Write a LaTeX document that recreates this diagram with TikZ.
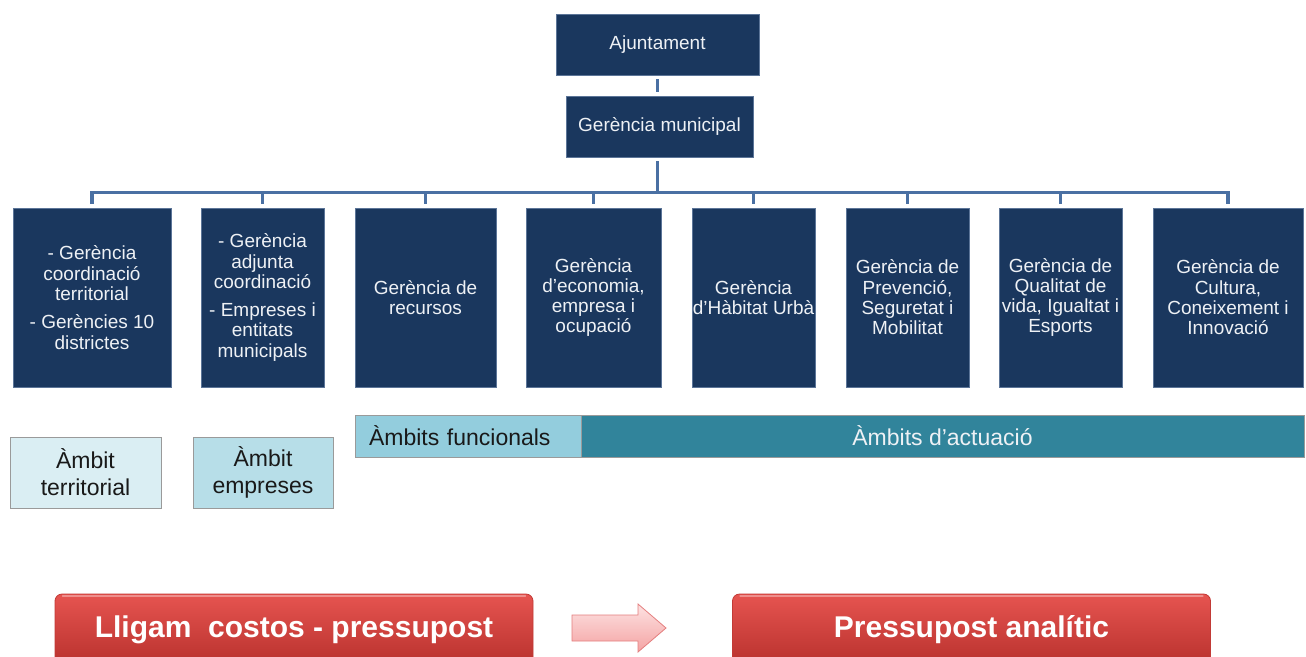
\documentclass[tikz,border=0pt]{standalone}
\usepackage{fontspec}
\setmainfont{Liberation Sans}
\usetikzlibrary{calc}
\definecolor{navy}{HTML}{1A375E}
\definecolor{navyedge}{HTML}{5C7598}
\definecolor{conncol}{HTML}{4A70A3}
\definecolor{boxtext}{HTML}{EEF1F5}
\definecolor{amb1}{HTML}{DAEEF3}
\definecolor{amb2}{HTML}{B7DEE8}
\definecolor{amb3}{HTML}{93CDDD}
\definecolor{amb4}{HTML}{31849B}
\definecolor{ambedge}{HTML}{9A9A9A}
\definecolor{redtop}{HTML}{E65450}
\definecolor{redbot}{HTML}{B8312D}
\definecolor{rededge}{HTML}{C23A36}
\definecolor{pinktop}{HTML}{FDE2E2}
\definecolor{pinkbot}{HTML}{F4A3A3}
\definecolor{pinkedge}{HTML}{E47E7E}
\begin{document}
\begin{tikzpicture}[x=1pt,y=-1pt,
  gbox/.style={rectangle, fill=navy, draw=navyedge, line width=0.8pt, text=boxtext,
    font=\fontsize{19}{20.3}\selectfont, align=center, inner sep=0pt},
  ambox/.style={rectangle, draw=ambedge, line width=0.8pt, text=black!90,
    font=\fontsize{23}{27}\selectfont, align=center, inner sep=0pt},
  conn/.style={draw=conncol, line width=3.5pt},
  redbox/.style={rectangle, rounded corners=7pt, top color=redtop, bottom color=redbot,
    draw=rededge, line width=0.8pt, text=white, font=\fontsize{30}{34}\selectfont\bfseries,
    inner sep=0pt, minimum height=72, minimum width=478}
]
\useasboundingbox (0,0) rectangle (1306,656);
\clip (0,0) rectangle (1306,656);

% top boxes
\node[gbox, minimum width=203, minimum height=61] (aj) at (657.5,44.5) {Ajuntament};
\node[gbox, minimum width=187, minimum height=61] (gm) at (659.5,126.5) {Gerència municipal};

% row of management boxes
\node[gbox, minimum width=158, minimum height=179] (b1) at (92,297.5)
  {- Gerència\\coordinació\\territorial\\[8pt]- Gerències 10\\districtes};
\node[gbox, minimum width=123, minimum height=179] (b2) at (262.5,297.5)
  {- Gerència\\adjunta\\coordinació\\[8pt]- Empreses i\\entitats\\municipals};
\node[gbox, minimum width=141, minimum height=179] (b3) at (425.5,297.5)
  {Gerència de\\recursos};
\node[gbox, minimum width=135, minimum height=179] (b4) at (593.5,297.5)
  {Gerència\\d’economia,\\empresa i\\ocupació};
\node[gbox, minimum width=123, minimum height=179] (b5) at (753.5,297.5)
  {Gerència\\d’Hàbitat Urbà};
\node[gbox, minimum width=123, minimum height=179] (b6) at (907.5,297.5)
  {Gerència de\\Prevenció,\\Seguretat i\\Mobilitat};
\node[gbox, minimum width=123, minimum height=179] (b7) at (1060.5,297.5)
  {Gerència de\\Qualitat de\\vida, Igualtat i\\Esports};
\node[gbox, minimum width=150, minimum height=179] (b8) at (1228,297.5)
  {Gerència de\\Cultura,\\Coneixement i\\Innovació};

% connectors
\coordinate (bar) at (657,192.5);
\draw[conn, shorten <=4pt, shorten >=4pt] (aj.south) -- (aj.south |- gm.north);
\draw[conn, shorten <=4pt] (aj.south |- gm.south) -- (aj.south |- bar);
\draw[conn, line cap=rect] (b1.north |- bar) -- (b8.north |- bar);
\foreach \b in {b1,b2,b3,b4,b5,b6,b7,b8}{
  \draw[conn, shorten >=4pt] (\b.north |- bar) -- (\b.north);
}

% ambit boxes
\node[ambox, fill=amb1, minimum width=151, minimum height=71] (at) at (85.5,472.5)
  {Àmbit\\territorial};
\node[ambox, fill=amb2, minimum width=140, minimum height=71] (ae) at (263,472.5)
  {Àmbit\\empreses};
\node[ambox, fill=amb3, minimum width=226, minimum height=42, text width=198,
  inner xsep=14pt, align=left] (af) at (468,436) {Àmbits funcionals};
\node[ambox, fill=amb4, draw=ambedge, minimum width=723, minimum height=42, text=boxtext]
  (aa) at (942.5,436) {Àmbits d’actuació};

% red boxes
\node[redbox] (r1) at (294,630) {Lligam\ \ costos - pressupost};
\node[redbox] (r2) at (971.5,630) {Pressupost analític};
\draw[white, opacity=0.35, line width=1.5pt, line cap=round]
  ([xshift=8pt,yshift=-2.5pt]r1.north west) -- ([xshift=-8pt,yshift=-2.5pt]r1.north east);
\draw[white, opacity=0.35, line width=1.5pt, line cap=round]
  ([xshift=8pt,yshift=-2.5pt]r2.north west) -- ([xshift=-8pt,yshift=-2.5pt]r2.north east);

% arrow between
\draw[top color=pinktop, bottom color=pinkbot, draw=pinkedge, line width=0.8pt]
  (572,615) -- (638,615) -- (638,604) -- (666,628) -- (638,652) -- (638,641) -- (572,641) -- cycle;
\end{tikzpicture}
\end{document}
